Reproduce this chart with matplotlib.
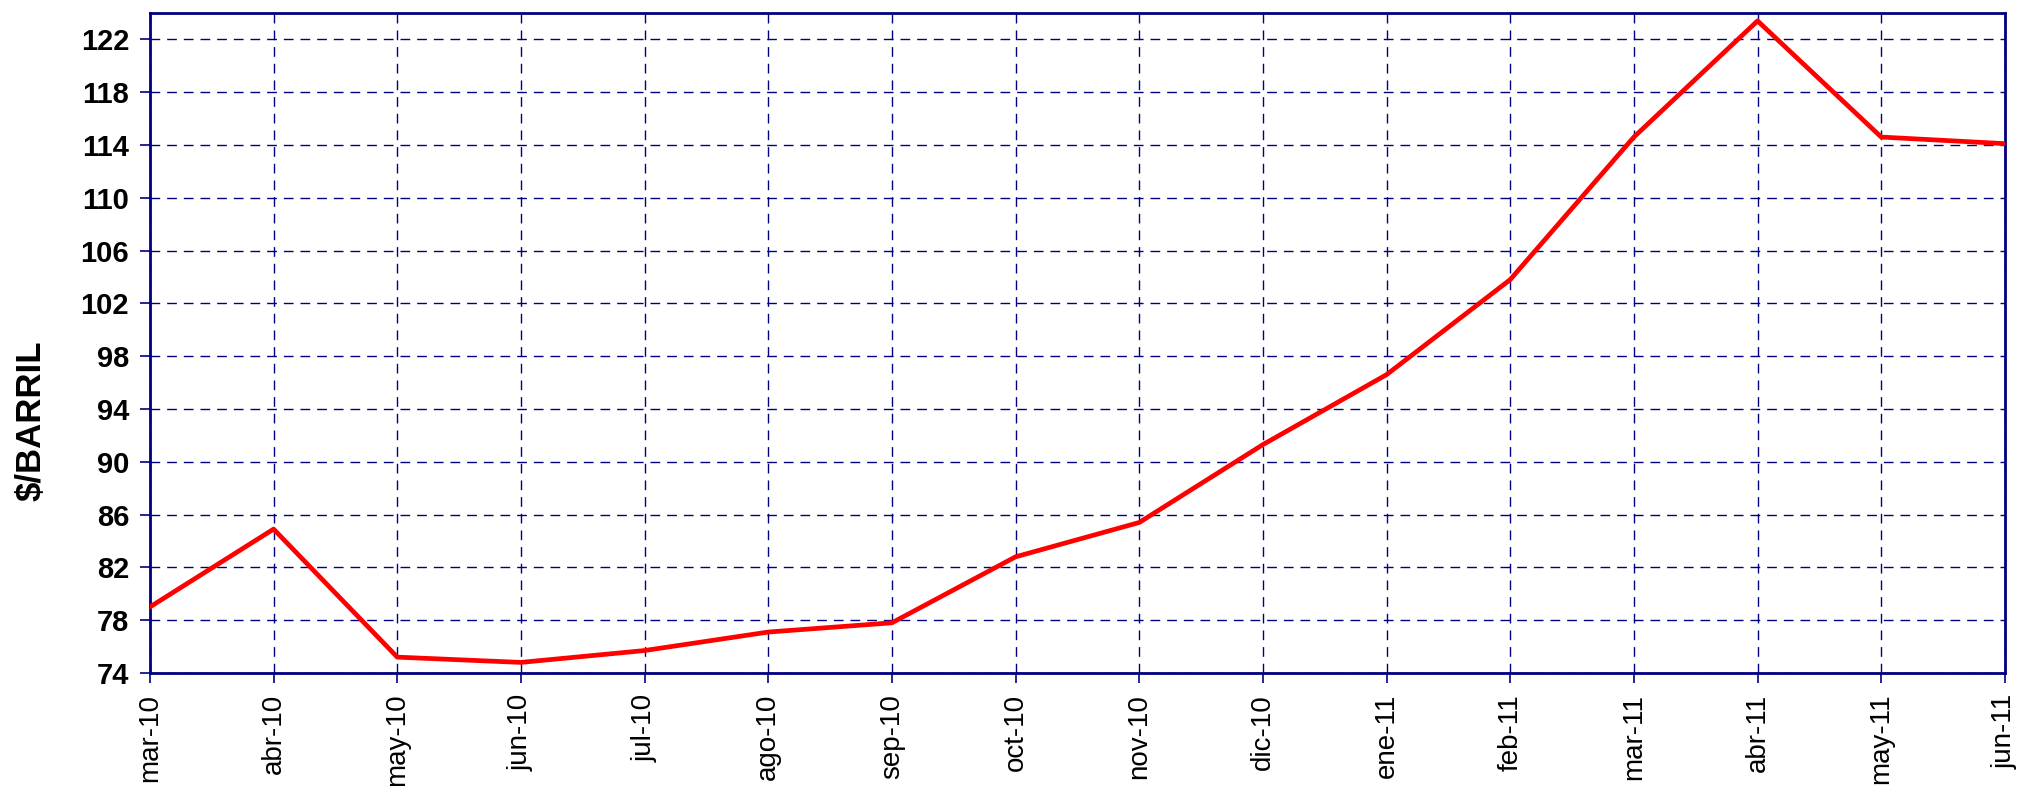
import matplotlib
matplotlib.use("Agg")
import matplotlib.pyplot as plt

# precio del barril, mar-10 a jun-11
meses = ["mar-10", "abr-10", "may-10", "jun-10", "jul-10", "ago-10", "sep-10", "oct-10",
         "nov-10", "dic-10", "ene-11", "feb-11", "mar-11", "abr-11", "may-11", "jun-11"]
precios = [79.0, 84.9, 75.2, 74.8, 75.7, 77.1, 77.8, 82.8,
           85.4, 91.3, 96.6, 103.8, 114.6, 123.4, 114.6, 114.1]
y_ticks = list(range(74, 123, 4))

plt.rcParams['font.family'] = ['Liberation Sans', 'DejaVu Sans']
navy = "#000080"

fig = plt.figure(figsize=(20.18, 7.86), dpi=100)
ax = fig.add_axes([0.0743, 0.1438, 0.9192, 0.8397])

x = list(range(len(meses)))
ax.plot(x, precios, color="#ff0000", lw=3.4, zorder=3)

ax.set_xlim(0, len(meses) - 1)
ax.set_ylim(74, 124)
ax.set_xticks(x)
ax.set_xticklabels(meses, rotation=90, fontsize=20)
ax.set_yticks(y_ticks)
ax.set_yticklabels([str(v) for v in y_ticks], fontsize=21, fontweight="bold")

ax.grid(True, color=navy, ls=(0, (7, 5)), lw=1.0)
for s in ax.spines.values():
    s.set_color(navy)
    s.set_linewidth(2.0)
ax.tick_params(axis="both", color=navy, length=7, width=1.2, pad=8)

ax.set_ylabel("$/BARRIL", fontsize=25, fontweight="bold")
ax.yaxis.set_label_coords(-0.055, 0.382)

fig.savefig("out.png", dpi=100)
